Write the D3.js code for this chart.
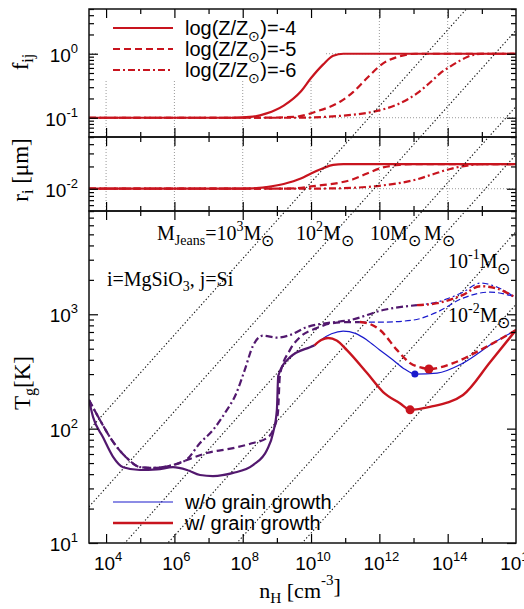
<!DOCTYPE html>
<html>
<head>
<meta charset="utf-8">
<script src="https://cdn.jsdelivr.net/npm/d3@7"></script>
<style>
  body { margin: 0; background: #fff; }
  svg { display: block; }
</style>
</head>
<body>
<div class="container"></div>
<script>
// values are [log10(n_H), value]
// f_ij, w/ grain growth
const fZ4 = [[3.5,0.1],[7.7,0.1],[8.3,0.104],[8.7,0.117],[9.2,0.155],[9.7,0.257],[10.0,0.417],[10.35,0.676],[10.65,0.933],[10.95,1.0],[16,1.0]];
const fZ5 = [[3.5,0.1],[8.5,0.1],[9.5,0.103],[10.17,0.126],[10.85,0.178],[11.23,0.251],[11.64,0.417],[12.11,0.708],[12.6,0.912],[13.05,1.0],[16,1.0]];
const fZ6 = [[3.5,0.1],[9.5,0.1],[10.64,0.105],[12.11,0.135],[13.1,0.24],[13.57,0.39],[13.77,0.49],[14.07,0.63],[14.36,0.78],[14.57,0.89],[14.75,0.96],[15.03,1.0],[16,1.0]];
// r_i [um]
const rZ4 = [[3.5,0.01],[7.7,0.01],[8.3,0.0101],[8.7,0.01055],[9.2,0.0116],[9.7,0.0137],[10.0,0.0161],[10.35,0.0189],[10.65,0.0210],[10.95,0.0215],[16,0.0215]];
const rZ5 = [[3.5,0.01],[8.5,0.01],[9.5,0.0101],[10.17,0.0110],[10.85,0.0121],[11.23,0.0134],[11.64,0.0161],[12.11,0.0194],[12.6,0.0210],[13.05,0.0215],[16,0.0215]];
const rZ6 = [[3.5,0.01],[9.5,0.01],[10.64,0.0101],[12.11,0.0111],[13.1,0.0134],[13.57,0.0157],[14.07,0.0185],[14.36,0.0198],[14.57,0.0205],[14.75,0.0212],[15.03,0.0215],[16,0.0215]];
// T_g [K], part common to both runs
const tZ4 = [[3.5,178],[3.62,126],[3.91,84],[4.2,57],[4.5,46],[4.99,43.5],[5.49,44],[5.96,46],[6.37,43.5],[6.75,39.3],[7.13,38.5],[7.72,41],[8.3,48],[8.71,65],[8.89,92],[9.0,146],[9.04,290],[9.38,420],[9.97,516],[10.1,535]];
const tZ5 = [[3.5,178],[3.82,119],[4.11,84.5],[4.61,55.3],[4.99,46.1],[5.37,45.3],[5.96,48.1],[6.37,53.2],[6.95,61.2],[7.72,67.6],[8.3,74.8],[8.71,82.8],[8.89,97.3],[9.03,137],[9.09,294],[9.38,486],[9.68,632],[10.17,757],[10.64,838],[11.14,855],[11.43,855]];
const tZ6 = [[3.5,178],[3.82,119],[4.11,84.5],[4.61,55.3],[4.99,46.1],[5.37,45.3],[5.96,48.1],[6.37,54],[6.75,74.8],[7.13,97.3],[7.5,140],[7.8,200],[8.05,320],[8.3,530],[8.59,650],[9.0,625],[9.38,658],[9.88,773],[10.47,838],[11.14,889],[12.11,1089],[13.1,1203]];
// w/o grain growth
const noZ4 = [[10.1,535],[10.3,600],[10.6,675],[10.94,713],[11.3,680],[11.64,594],[12.0,490],[12.4,398],[12.75,330],[13.04,300],[13.69,306],[14.45,374],[15.33,560],[16,728]];
const noZ5 = [[11.43,855],[12.11,855],[12.98,889],[13.69,1045],[14.45,1386],[15.24,1563],[16,1413]];
const noZ6 = [[13.1,1203],[13.69,1279],[14.45,1563],[14.95,1875],[15.44,1730],[16,1386]];
// w/ grain growth
const grZ4 = [[10.1,535],[10.3,595],[10.5,620],[10.75,590],[11.05,486],[11.64,306],[12.11,209],[12.6,167],[12.9,146],[13.48,155],[14.45,197],[15.24,380],[16,728]];
const grZ5 = [[11.43,855],[11.64,838],[12.02,728],[12.52,486],[12.9,374],[13.28,339],[13.45,332],[14.16,374],[14.95,486],[16,728]];
const grZ6 = [[13.1,1203],[13.69,1250],[14.45,1480],[14.95,1760],[15.44,1680],[16,1390]];
// markers
const dots = [[12.9,146,"gr"],[13.04,300,"no"],[13.45,332,"gr"]];
// constant Jeans mass lines (T ~ n^(1/3)): log10(n_H) where each crosses T = 10 K
const jeansMass = [1e3, 1e2, 10, 1, 0.1, 0.01];
const jeansN10 = [0.54, 2.55, 4.55, 5.81, 7.83, 9.74];
const zLabels = ["-4", "-5", "-6"];

const width = 524, height = 609;
const L = 89, R = 516;
const red = "#c8141e", blue = "#1a1acc", purple = "#52186e";
const dashes = [null, "7,4", "7,3,2,3"];
const dashesThin = [null, "6,3", "6,3,2,3"];
const sans = "'Liberation Sans', Arial, sans-serif";
const serif = "'Liberation Serif', 'Times New Roman', serif";

const svg = d3.select(".container").append("svg")
  .attr("width", width).attr("height", height)
  .style("font-family", sans);

const x = d3.scaleLog().domain([10 ** 3.5, 1e16]).range([L, R]);
const yF = d3.scaleLog().domain([0.05, 5]).range([137, 9]);
const yR = d3.scaleLog().domain([0.005, 0.05]).range([211, 137]);
const yT = d3.scaleLog().domain([10, 8000]).range([543, 211]);

function logTicks(y) {
  const [a, b] = y.domain();
  const out = { major: [], minor: [] };
  for (let e = Math.floor(Math.log10(a)); e <= Math.ceil(Math.log10(b)); e++) {
    for (let k = 1; k < 10; k++) {
      const v = k * 10 ** e;
      if (v < a * 0.999 || v > b * 1.001) continue;
      (k === 1 ? out.major : out.minor).push(v);
    }
  }
  return out;
}

function grid(y) {
  const [yb, yt] = y.range();
  const g = svg.append("g").attr("stroke", "#999").attr("stroke-dasharray", "1,2");
  g.selectAll("line.v").data(d3.range(4, 15, 2)).join("line")
    .attr("x1", d => x(10 ** d)).attr("x2", d => x(10 ** d))
    .attr("y1", yt).attr("y2", yb);
  g.selectAll("line.h").data(logTicks(y).major).join("line")
    .attr("x1", L).attr("x2", R)
    .attr("y1", d => y(d)).attr("y2", d => y(d));
}

function frame(y) {
  const [yb, yt] = y.range();
  const t = logTicks(y);
  const add = (axis, tr, vals, size) => svg.append("g")
    .attr("transform", tr)
    .call(axis.tickValues(vals).tickSize(-size).tickFormat(""))
    .call(g => g.select(".domain").remove())
    .call(g => g.selectAll("line").attr("stroke-width", 1.2));
  const xMaj = d3.range(4, 15, 2).map(e => 10 ** e);
  const xMin = d3.range(5, 16, 2).map(e => 10 ** e);
  add(d3.axisBottom(x), `translate(0,${yb})`, xMaj, 9);
  add(d3.axisBottom(x), `translate(0,${yb})`, xMin, 5);
  add(d3.axisTop(x), `translate(0,${yt})`, xMaj, 9);
  add(d3.axisTop(x), `translate(0,${yt})`, xMin, 5);
  add(d3.axisLeft(y), `translate(${L},0)`, t.major, 9);
  add(d3.axisLeft(y), `translate(${L},0)`, t.minor, 5);
  add(d3.axisRight(y), `translate(${R},0)`, t.major, 9);
  add(d3.axisRight(y), `translate(${R},0)`, t.minor, 5);
  svg.append("rect").attr("x", L).attr("y", yt)
    .attr("width", R - L).attr("height", yb - yt)
    .attr("fill", "none").attr("stroke", "#111").attr("stroke-width", 1.5);
}

function pow10(sel, exp, supSize, dy) {
  sel.text("10").append("tspan").attr("font-size", supSize).attr("dy", dy).text(exp);
}

function curve(y, data, color, w, dash) {
  const line = d3.line().x(d => x(10 ** d[0])).y(d => y(d[1])).curve(d3.curveMonotoneX);
  svg.append("path").datum(data)
    .attr("fill", "none").attr("stroke", color).attr("stroke-width", w)
    .attr("stroke-dasharray", dash).attr("stroke-linejoin", "round")
    .attr("clip-path", "url(#clipT)")
    .attr("d", line);
}

// clip for plot area
svg.append("clipPath").attr("id", "clipT").append("rect")
  .attr("x", L).attr("y", 9).attr("width", R - L).attr("height", 543 - 9);

// ---- top panels
grid(yF);
grid(yR);

// legend box
svg.append("rect").attr("x", 98).attr("y", 12).attr("width", 226).attr("height", 67).attr("fill", "#fff");

[fZ4, fZ5, fZ6].forEach((d, i) => curve(yF, d, red, 2.2, dashes[i]));
[rZ4, rZ5, rZ6].forEach((d, i) => curve(yR, d, red, 2.2, dashes[i]));

// legend metallicity
zLabels.forEach((z, i) => {
  const ly = 28 + i * 21;
  svg.append("line").attr("x1", 113).attr("x2", 173).attr("y1", ly).attr("y2", ly)
    .attr("stroke", red).attr("stroke-width", 2.2).attr("stroke-dasharray", dashes[i]);
  const t = svg.append("text").attr("x", 185).attr("y", ly + 7).attr("font-size", 20).text("log(Z/Z");
  t.append("tspan").attr("font-size", 14).attr("dy", 6).text("\u2299");
  t.append("tspan").attr("dy", -6).text(")=" + z);
});

// ---- bottom panel: Jeans lines
const jg = svg.append("g").attr("clip-path", "url(#clipT)")
  .attr("stroke", "#111").attr("stroke-width", 1.1).attr("stroke-dasharray", "1.3,2.2");
jg.selectAll("line").data(jeansN10).join("line")
  .attr("x1", x(10 ** 3.5)).attr("x2", x(1e16))
  .attr("y1", d => yT(10 ** (1 + (3.5 - d) / 3)))
  .attr("y2", d => yT(10 ** (1 + (16 - d) / 3)));

[tZ4, tZ5, tZ6].forEach((d, i) => curve(yT, d, purple, 2.2, dashes[i]));
[noZ4, noZ5, noZ6].forEach((d, i) => curve(yT, d, blue, 1.2, dashesThin[i]));
[grZ4, grZ5, grZ6].forEach((d, i) => curve(yT, d, red, 2.4, dashes[i]));

svg.selectAll("circle.dot").data(dots).join("circle")
  .attr("cx", d => x(10 ** d[0])).attr("cy", d => yT(d[1]))
  .attr("r", d => d[2] === "gr" ? 4.5 : 3.5)
  .attr("fill", d => d[2] === "gr" ? red : blue);

// frames
frame(yF);
frame(yR);
frame(yT);

// ---- tick labels
[[yF, 1, "0"], [yF, 0.1, "-1"], [yR, 0.01, "-2"], [yT, 1000, "3"], [yT, 100, "2"], [yT, 10, "1"]]
  .forEach(([y, v, e]) => {
    svg.append("text").attr("x", 78).attr("y", y(v) + 8).attr("text-anchor", "end")
      .attr("font-size", 19).call(pow10, e, 13, -9);
  });
d3.range(4, 17, 2).forEach(e => {
  svg.append("text").attr("x", x(10 ** e) + 2).attr("y", 570).attr("text-anchor", "middle")
    .attr("font-size", 19).call(pow10, e, 13, -9);
});

// ---- axis titles
function title(tx, ty, rot, main, sub, rest, size) {
  const t = svg.append("text").attr("transform", `translate(${tx},${ty}) rotate(${rot})`)
    .attr("text-anchor", "middle").attr("font-family", serif).attr("font-size", size).text(main);
  t.append("tspan").attr("font-size", size * 0.7).attr("dy", 5).text(sub);
  if (rest) t.append("tspan").attr("dy", -5).text(rest);
  return t;
}
title(28, 62, -90, "f", "ij", null, 23);
title(28, 170, -90, "r", "i", " [\u03bcm]", 23);
title(30, 383, -90, "T", "g", "[K]", 23);
const nt = title(300, 598, 0, "n", "H", " [cm", 22);
nt.append("tspan").attr("font-size", 15).attr("dy", -13).text("-3");
nt.append("tspan").attr("dy", 8).text("]");

// ---- annotations
const annSize = 20;
function msun(tx, ty, pre, exp) {
  const t = svg.append("text").attr("x", tx).attr("y", ty)
    .attr("font-family", serif).attr("font-size", annSize).text(pre);
  if (exp) t.append("tspan").attr("font-size", 14).attr("dy", -9).text(exp);
  t.append("tspan").attr("dy", exp ? 9 : 0).text("M");
  t.append("tspan").attr("font-size", 16).attr("dy", 6).text("\u2299");
}
{
  const t = svg.append("text").attr("x", 157).attr("y", 240)
    .attr("font-family", serif).attr("font-size", annSize).text("M");
  t.append("tspan").attr("font-size", 14).attr("dy", 5).text("Jeans");
  t.append("tspan").attr("dy", -5).text("=10");
  t.append("tspan").attr("font-size", 14).attr("dy", -9).text("3");
  t.append("tspan").attr("dy", 9).text("M");
  t.append("tspan").attr("font-size", 16).attr("dy", 6).text("\u2299");
}
msun(296, 240, "10", "2");
msun(370, 240, "10", null);
msun(424, 240, "", null);
msun(448, 268, "10", "-1");
msun(448, 322, "10", "-2");

{
  const t = svg.append("text").attr("x", 107).attr("y", 286)
    .attr("font-family", serif).attr("font-size", 20).text("i=MgSiO");
  t.append("tspan").attr("font-size", 14).attr("dy", 5).text("3");
  t.append("tspan").attr("dy", -5).text(", j=Si");
}

// growth legend
[["w/o grain growth", blue, 1.2], ["w/ grain growth", red, 2.4]].forEach(([label, c, w], i) => {
  const ly = 502 + i * 21;
  svg.append("line").attr("x1", 113).attr("x2", 173).attr("y1", ly).attr("y2", ly)
    .attr("stroke", c).attr("stroke-width", w);
  svg.append("text").attr("x", 185).attr("y", ly + 7).attr("font-size", 20).text(label);
});
</script>
</body>
</html>
